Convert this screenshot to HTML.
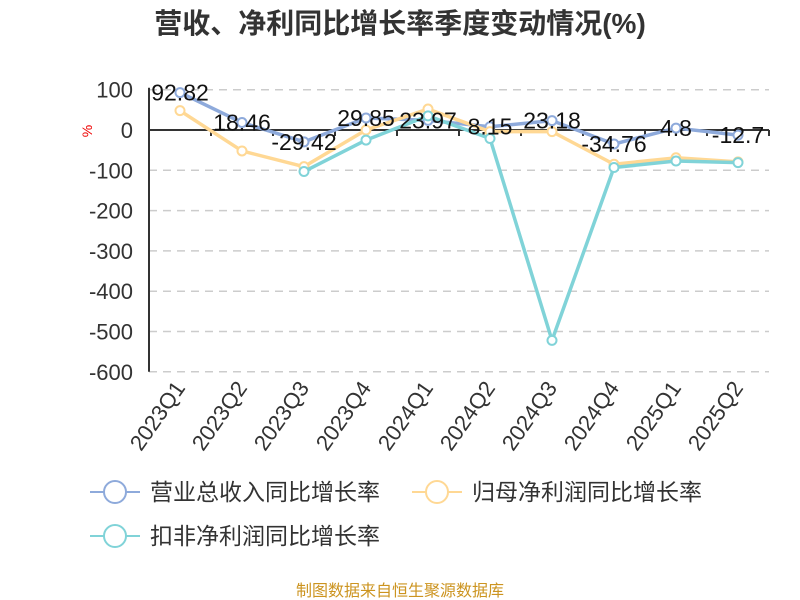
<!DOCTYPE html>
<html><head><meta charset="utf-8"><style>
body{margin:0;background:#fff;}
svg{display:block;font-family:"Liberation Sans","Noto Sans CJK SC",sans-serif;}
</style></head><body>
<svg id="c" width="800" height="600">
<text x="400" y="33" text-anchor="middle" font-size="28" font-weight="bold" fill="#333">营收、净利同比增长率季度变动情况(%)</text>
<text x="92" y="131" fill="#e00" font-size="14" text-anchor="middle" transform="rotate(-90 92 131)">%</text>
<g id="grid"></g><g id="series"></g>
<text x="400" y="596" text-anchor="middle" font-size="16" fill="#cc9420">制图数据来自恒生聚源数据库</text>
</svg>
<script>
const categories=["2023Q1","2023Q2","2023Q3","2023Q4","2024Q1","2024Q2","2024Q3","2024Q4","2025Q1","2025Q2"];
const revenue=[92.82,18.46,-29.42,29.85,23.97,8.15,23.18,-34.76,4.8,-12.7];
const netProfit=[48,-52,-91,0,52,-4,-4,-85,-69,-79];
const deducted=[null,null,-103,-25,35,-21,-522,-93,-77,-81];
const yTicks=[100,0,-100,-200,-300,-400,-500,-600];
const seriesNames=["营业总收入同比增长率","归母净利润同比增长率","扣非净利润同比增长率"];
const NS="http://www.w3.org/2000/svg";
const L=149,R=769,Y0=130,K=0.403;
const bw=(R-L)/categories.length;
const xs=i=>L+bw*(i+0.5);
const ys=v=>Y0-v*K;
function mk(t,a,p){const e=document.createElementNS(NS,t);for(const k in a)e.setAttribute(k,a[k]);(p||document.getElementById('c')).appendChild(e);return e;}
const g=document.getElementById('grid'),s=document.getElementById('series');
yTicks.forEach(v=>{
  if(v!==0){const l=mk('line',{x1:L,x2:R,y1:ys(v),y2:ys(v),stroke:'#ccc','stroke-dasharray':'8,6','stroke-width':1.5},g);
  
  }
  const t=mk('text',{x:133,y:ys(v)+8,'text-anchor':'end','font-size':22,fill:'#333'},g);t.textContent=v;
  
  
});
const ya=mk('line',{x1:L,x2:L,y1:ys(100)-2,y2:ys(-600),stroke:'#333','stroke-width':2},g);


const xa=mk('line',{x1:L,x2:R,y1:ys(0),y2:ys(0),stroke:'#333','stroke-width':2},g);


for(let i=0;i<=categories.length;i++){mk('line',{x1:L+bw*i,x2:L+bw*i,y1:ys(0),y2:ys(0)+6,stroke:'#333','stroke-width':2},g);}
categories.forEach((c,i)=>{
  const x=xs(i)+6,y=388;
  const t=mk('text',{x:x,y:y,'text-anchor':'end','font-size':22,fill:'#333',transform:`rotate(-55 ${x} ${y})`},g);t.textContent=c;
  
  
});
const colors=["#8eaadb","#ffd894","#80d3d8"];
[revenue,netProfit,deducted].forEach((d,si)=>{
  let pts=[];d.forEach((v,i)=>{if(v!==null)pts.push(xs(i)+','+ys(v));});
  const p=mk('polyline',{points:pts.join(' '),fill:'none',stroke:colors[si],'stroke-width':3.5,'stroke-linejoin':'round'},s);
  
  
  d.forEach((v,i)=>{if(v===null)return;
    const c=mk('circle',{cx:xs(i),cy:ys(v),r:4.5,fill:'#fff',stroke:colors[si],'stroke-width':2},s);
    
    
  });
});
revenue.forEach((v,i)=>{
  const t=mk('text',{x:xs(i),y:ys(v)+8,'text-anchor':'middle','font-size':23,fill:'#111'},s);t.textContent=v;
  
  
});
const lp=[[90,492],[412,492],[90,536]];
seriesNames.forEach((n,i)=>{
  const [x,y]=lp[i];
  const gg=mk('g',{},s);
  
  
  mk('line',{x1:x,x2:x+50,y1:y,y2:y,stroke:colors[i],'stroke-width':2},gg);
  mk('circle',{cx:x+25,cy:y,r:11,fill:'#fff',stroke:colors[i],'stroke-width':2},gg);
  const t=mk('text',{x:x+60,y:y+8,'font-size':23,fill:'#333'},gg);t.textContent=n;
});
</script>
</body></html>
